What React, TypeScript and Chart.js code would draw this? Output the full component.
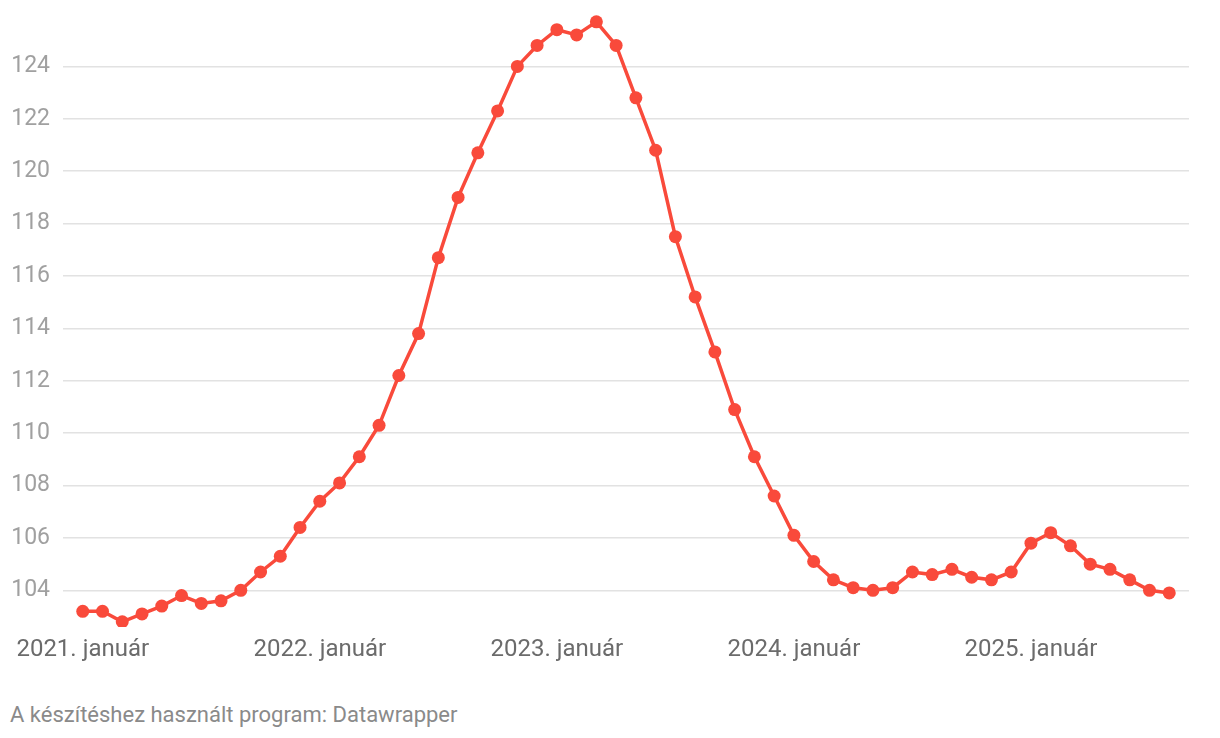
import React, { useEffect, useRef } from "react";
import { Chart, registerables } from "chart.js";

Chart.register(...registerables);

// Monthly values, 2021 January .. 2025 August
const values: number[] = [
  103.2, 103.2, 102.8, 103.1, 103.4, 103.8, 103.5, 103.6, 104.0, 104.7, 105.3, 106.4,
  107.4, 108.1, 109.1, 110.3, 112.2, 113.8, 116.7, 119.0, 120.7, 122.3, 124.0, 124.8,
  125.4, 125.2, 125.7, 124.8, 122.8, 120.8, 117.5, 115.2, 113.1, 110.9, 109.1, 107.6,
  106.1, 105.1, 104.4, 104.1, 104.0, 104.1, 104.7, 104.6, 104.8, 104.5, 104.4, 104.7,
  105.8, 106.2, 105.7, 105.0, 104.8, 104.4, 104.0, 103.9,
];

const xTickIndices: number[] = [0, 12, 24, 36, 48];
const xTickLabels: string[] = [
  "2021. január",
  "2022. január",
  "2023. január",
  "2024. január",
  "2025. január",
];
const yTicks: number[] = [104, 106, 108, 110, 112, 114, 116, 118, 120, 122, 124];

const footerText = "A készítéshez használt program: Datawrapper";

export default function App() {
  const ref = useRef<HTMLCanvasElement | null>(null);

  useEffect(() => {
    if (!ref.current) return;
    const chart = new Chart(ref.current, {
      type: "line",
      data: {
        datasets: [
          {
            data: values.map((v, i) => ({ x: i, y: v })),
            borderColor: "#f94a3b",
            backgroundColor: "#f94a3b",
            borderWidth: 3.5,
            pointRadius: 6.5,
            pointBorderWidth: 0,
            pointBackgroundColor: "#f94a3b",
            tension: 0,
          },
        ],
      },
      options: {
        animation: false,
        responsive: false,
        devicePixelRatio: 1,
        layout: { padding: { left: 0, right: 31, top: 14, bottom: 0 } },
        plugins: {
          legend: { display: false },
          tooltip: { enabled: false },
        },
        scales: {
          x: {
            type: "linear",
            min: -1,
            max: 56,
            border: { display: false },
            grid: { display: false, drawTicks: false },
            afterBuildTicks: (axis: any) => {
              axis.ticks = xTickIndices.map((v) => ({ value: v }));
            },
            afterFit: (axis: any) => {
              axis.height = 50;
              axis.paddingLeft = 0;
              axis.paddingRight = 0;
            },
            ticks: {
              autoSkip: false,
              maxRotation: 0,
              padding: 9,
              color: "#6b6b6b",
              font: { family: "Roboto", size: 24 },
              callback: (v: any) => {
                const idx = xTickIndices.indexOf(Number(v));
                return idx >= 0 ? xTickLabels[idx] : "";
              },
            },
          },
          y: {
            min: 102.6,
            max: 126,
            border: { display: false },
            grid: { color: "#e2e2e2", lineWidth: 1.6, drawTicks: false },
            afterBuildTicks: (axis: any) => {
              axis.ticks = yTicks.map((v) => ({ value: v }));
            },
            afterFit: (axis: any) => {
              axis.width = 63;
              axis.paddingTop = 0;
              axis.paddingBottom = 0;
            },
            ticks: {
              padding: 13,
              color: "#a0a0a0",
              font: { family: "Roboto", size: 23 },
              callback: (v: any) => String(v),
            },
          },
        },
      },
    });
    return () => chart.destroy();
  }, []);

  return (
    <div
      style={{
        position: "absolute",
        left: 0,
        top: 0,
        width: 1220,
        height: 738,
        background: "#ffffff",
        overflow: "hidden",
      }}
    >
      <canvas ref={ref} width={1220} height={677} style={{ display: "block" }} />
      <div
        style={{
          position: "absolute",
          left: 10,
          top: 702,
          fontFamily: "Roboto",
          fontSize: 22,
          lineHeight: "26px",
          color: "#8a8a8a",
          whiteSpace: "nowrap",
        }}
      >
        {footerText}
      </div>
    </div>
  );
}
